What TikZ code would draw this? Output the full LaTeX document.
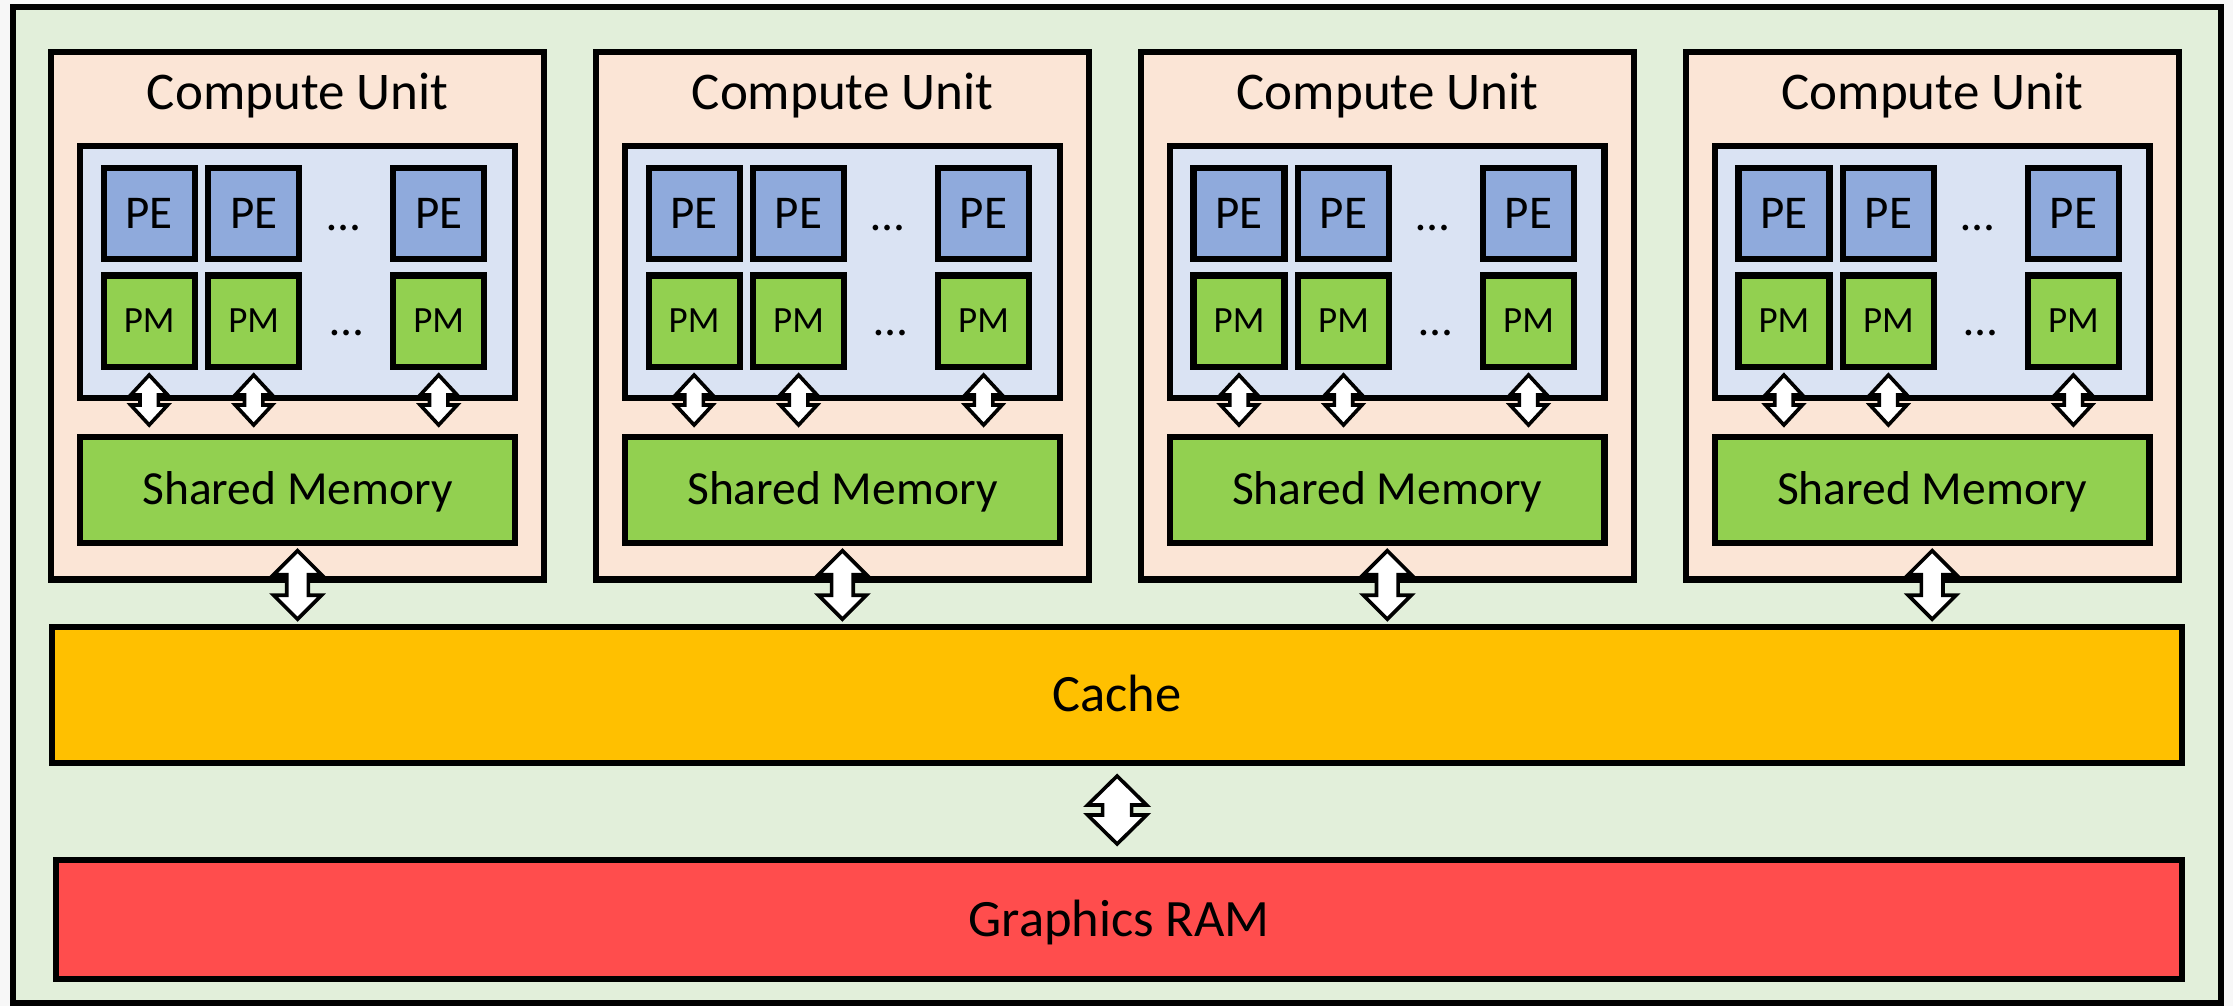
\documentclass[tikz,border=0pt]{standalone}
\usepackage{fontspec}
\setmainfont{Carlito}
\usetikzlibrary{calc}

\definecolor{pagebg}{HTML}{F7F7F7}
\definecolor{boardfill}{HTML}{E2EFDA}
\definecolor{cufill}{HTML}{FBE5D6}
\definecolor{arrayfill}{HTML}{DAE3F3}
\definecolor{pefill}{HTML}{8FAADC}
\definecolor{memfill}{HTML}{92D050}
\definecolor{cachefill}{HTML}{FFC000}
\definecolor{ramfill}{HTML}{FF4D4D}

\tikzset{
  box/.style={draw=black, line width=6.2pt, inner sep=0pt, outer sep=0pt, line join=miter},
  board/.style={box, fill=boardfill, minimum width=2208pt, minimum height=996.3pt},
  cubox/.style={box, fill=cufill, minimum width=492.7pt, minimum height=527.2pt},
  arraybox/.style={box, fill=arrayfill, minimum width=434.4pt, minimum height=251.7pt},
  pebox/.style={box, fill=pefill, minimum width=91pt, minimum height=91pt,
    font=\fontsize{47}{56}\selectfont, text height=29.7pt, text depth=0pt},
  pmbox/.style={box, fill=memfill, minimum width=91pt, minimum height=91.5pt,
    font=\fontsize{37}{44}\selectfont, text height=23.4pt, text depth=0pt},
  smbox/.style={box, fill=memfill, minimum width=434.4pt, minimum height=105.7pt,
    font=\fontsize{47.5}{56}\selectfont, text height=30pt, text depth=0pt},
  cachebox/.style={box, fill=cachefill, minimum width=2130.2pt, minimum height=136.1pt,
    font=\fontsize{52.5}{62}\selectfont, text height=33.2pt, text depth=0pt},
  rambox/.style={box, fill=ramfill, minimum width=2125.9pt, minimum height=118.8pt,
    font=\fontsize{52.5}{62}\selectfont, text height=33.2pt, text depth=0pt},
  cutitle/.style={anchor=base, inner sep=0pt, font=\fontsize{53}{62}\selectfont},
  gap/.style={anchor=base, inner sep=0pt, font=\fontsize{47}{56}\selectfont},
  % vertical two-headed block arrow: head half-width, shaft half-width, head length
  barrow/.style n args={3}{draw=black, fill=white, line width=3.6pt, line join=miter, miter limit=10,
    to path={let \p1=(\tikztostart), \p2=(\tikztotarget) in
      (\x1,\y1) -- (\x1+#1pt,\y1-#3pt) -- (\x1+#2pt,\y1-#3pt) -- (\x2+#2pt,\y2+#3pt)
      -- (\x2+#1pt,\y2+#3pt) -- (\x2,\y2) -- (\x2-#1pt,\y2+#3pt) -- (\x2-#2pt,\y2+#3pt)
      -- (\x1-#2pt,\y1-#3pt) -- (\x1-#1pt,\y1-#3pt) -- cycle}},
  pmarrow/.style={barrow={18.5}{9.2}{20}},
  cuarrow/.style={barrow={24}{10.8}{24}},
  ramarrow/.style={barrow={29.5}{14.5}{29}},
}

\begin{document}
\begin{tikzpicture}[x=1pt, y=-1pt]
  \useasboundingbox (0,0) rectangle (2233,1006);
  \fill[pagebg] (0,0) rectangle (2233,1006);

  % enclosing board
  \node[board] (board) at (1117,504.85) {};

  % four compute units
  \foreach \i in {1,...,4} {
    \pgfmathsetmacro{\L}{51.3+544.9*(\i-1)}
    \node[cubox] (cu\i) at (\L+246.35,315.9) {};
    \node[cutitle] (cutitle\i) at (\L+246.35,110) {Compute Unit};
    \node[arraybox] (array\i) at (\L+246.2,272.15) {};
    \foreach \j/\dx in {1/97.9,2/202.4,3/387.4} {
      \node[pebox] (pe\i-\j) at (\L+\dx,213.8) {PE};
      \node[pmbox] (pm\i-\j) at (\L+\dx,321.25) {PM};
    }
    \node[gap] (pegap\i) at (\L+292,230) {…};
    \node[gap] (pmgap\i) at (\L+295,335) {…};
    \node[smbox] (sm\i) at (\L+246.2,489.85) {Shared Memory};
  }

  % cache and graphics memory
  \node[cachebox] (cache) at (1117.1,695.25) {Cache};
  \node[rambox] (ram) at (1119.25,919.4) {Graphics RAM};

  % links
  \foreach \i in {1,...,4} {
    \foreach \j in {1,2,3} {
      \coordinate (pmtop\i-\j) at ($(pm\i-\j.south)+(0,8)$);
      \coordinate (pmbot\i-\j) at ($(pm\i-\j.south |- sm\i.north)+(0,-12)$);
      \draw[pmarrow] (pmtop\i-\j) to (pmbot\i-\j);
    }
    \coordinate (cutop\i) at ($(sm\i.south)+(0,8)$);
    \coordinate (cubot\i) at ($(sm\i.south |- cache.north)+(0,-8)$);
    \draw[cuarrow] (cutop\i) to (cubot\i);
  }
  \coordinate (ramtop) at ($(cache.south)+(0,12.7)$);
  \coordinate (rambot) at ($(cache.south |- ram.north)+(0,-16)$);
  \draw[ramarrow] (ramtop) to (rambot);
\end{tikzpicture}
\end{document}
